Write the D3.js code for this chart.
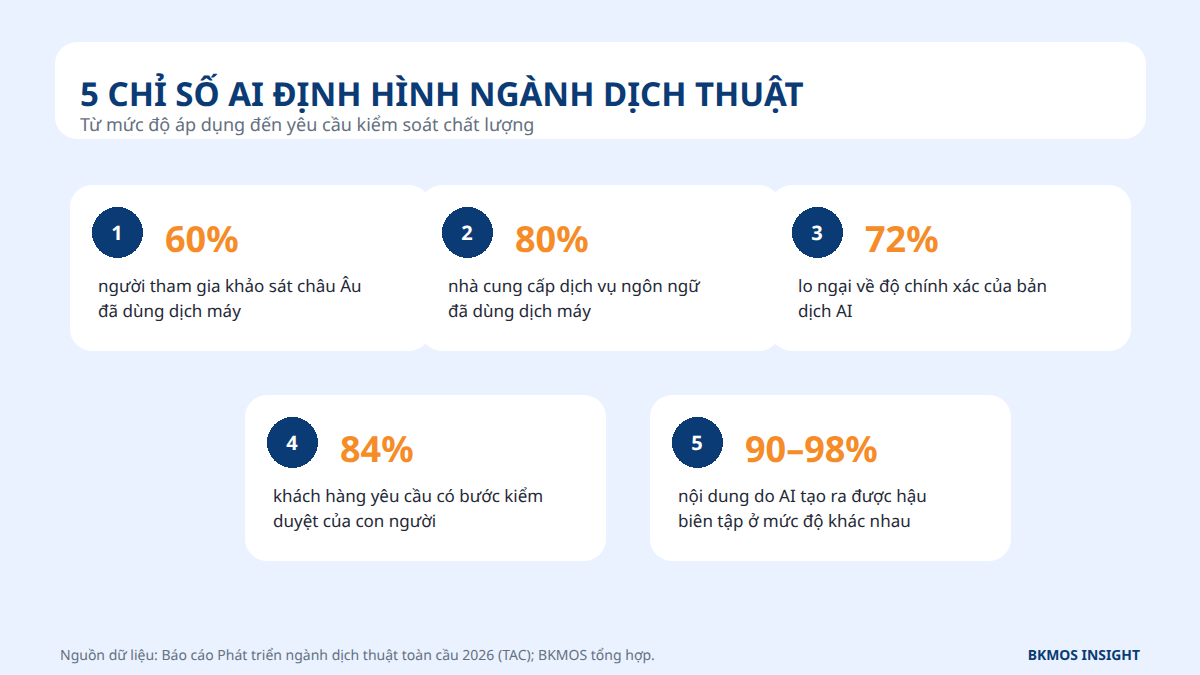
<!DOCTYPE html>
<html lang="vi">
<head>
<meta charset="utf-8">
<script src="https://cdn.jsdelivr.net/npm/d3@7"></script>
<style>
  html, body { margin: 0; padding: 0; background: #eaf2ff; }
  svg { display: block; font-family: "Noto Sans", sans-serif; text-rendering: geometricPrecision; }
</style>
</head>
<body>
<div id="chart"></div>
<script>
const title = '5 CHỈ SỐ AI ĐỊNH HÌNH NGÀNH DỊCH THUẬT';
const subtitle = 'Từ mức độ áp dụng đến yêu cầu kiểm soát chất lượng';
const source = 'Nguồn dữ liệu: Báo cáo Phát triển ngành dịch thuật toàn cầu 2026 (TAC); BKMOS tổng hợp.';
const brand = 'BKMOS INSIGHT';

const ranks = ['1', '2', '3', '4', '5'];
const values = ['60%', '80%', '72%', '84%', '90–98%'];
const line1 = [
  'người tham gia khảo sát châu Âu',
  'nhà cung cấp dịch vụ ngôn ngữ',
  'lo ngại về độ chính xác của bản',
  'khách hàng yêu cầu có bước kiểm',
  'nội dung do AI tạo ra được hậu'
];
const line2 = [
  'đã dùng dịch máy',
  'đã dùng dịch máy',
  'dịch AI',
  'duyệt của con người',
  'biên tập ở mức độ khác nhau'
];
const cardX = [70, 420, 770, 245, 650];
const cardY = [185, 185, 185, 395, 395];

const NAVY = '#0b3b75';
const ORANGE = '#f58c28';
const INK = '#1f2937';
const MUTED = '#64707f';

const svg = d3.select('#chart').append('svg')
  .attr('width', 1200).attr('height', 675).attr('viewBox', '0 0 1200 675');

svg.append('rect').attr('width', 1200).attr('height', 675).attr('fill', '#eaf2ff');

// header
svg.append('rect').attr('x', 55).attr('y', 42).attr('width', 1091).attr('height', 97).attr('rx', 22)
  .attr('fill', '#fff');
svg.append('text').attr('x', 80).attr('y', 106)
  .attr('fill', NAVY).attr('font-size', 33).attr('font-weight', 700).text(title);
svg.append('text').attr('x', 80).attr('y', 131)
  .attr('fill', MUTED).attr('font-size', 18).text(subtitle);

// cards, drawn in order so each one overlaps the last
const cards = svg.append('g').selectAll('g').data(ranks).join('g')
  .attr('transform', (d, i) => `translate(${cardX[i]},${cardY[i]})`);

cards.append('rect').attr('width', 361).attr('height', 166).attr('rx', 22).attr('fill', '#fff');
cards.append('circle').attr('cx', 47.5).attr('cy', 47.5).attr('r', 25.5).attr('fill', NAVY)
  .attr('shape-rendering', 'crispEdges');
cards.append('text').attr('x', 47).attr('y', 54.5).attr('text-anchor', 'middle')
  .attr('fill', '#fff').attr('font-size', 20).attr('font-weight', 700).text((d) => d);
cards.append('text').attr('x', 95).attr('y', 67)
  .attr('fill', ORANGE).attr('font-size', 36).attr('font-weight', 700).text((d, i) => values[i]);
cards.append('text').attr('x', 28).attr('y', 107)
  .attr('fill', INK).attr('font-size', 17).text((d, i) => line1[i]);
cards.append('text').attr('x', 28).attr('y', 132)
  .attr('fill', INK).attr('font-size', 17).text((d, i) => line2[i]);

// footer
svg.append('text').attr('x', 60).attr('y', 660)
  .attr('fill', MUTED).attr('font-size', 14).text(source);
svg.append('text').attr('x', 1140).attr('y', 660).attr('text-anchor', 'end')
  .attr('fill', NAVY).attr('font-size', 13.9).attr('font-weight', 700).text(brand);
</script>
</body>
</html>
